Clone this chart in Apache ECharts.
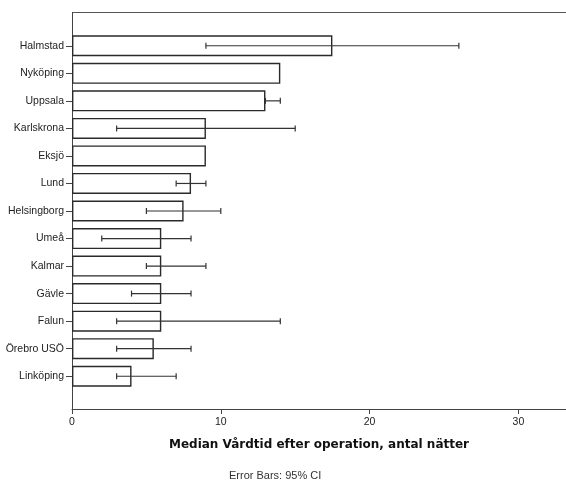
<!DOCTYPE html>
<html>
<head>
<meta charset="utf-8">
<script src="https://cdn.jsdelivr.net/npm/echarts@6/dist/echarts.min.js"></script>
<style>
  html, body { margin: 0; padding: 0; background: #fff; }
  #chart { width: 566px; height: 482px; }
</style>
</head>
<body>
<div id="chart"></div>
<script>
const categories = ['Halmstad', 'Nyköping', 'Uppsala', 'Karlskrona', 'Eksjö', 'Lund', 'Helsingborg',
  'Umeå', 'Kalmar', 'Gävle', 'Falun', 'Örebro USÖ', 'Linköping']
const medians = [17.5, 14, 13, 9, 9, 8, 7.5, 6, 6, 6, 6, 5.5, 4]
// 95% CI, null where no error bar is shown
const ciLow = [9, null, 13, 3, null, 7, 5, 2, 5, 4, 3, 3, 3]
const ciHigh = [26, null, 14, 15, null, 9, 10, 8, 9, 8, 14, 8, 7]
const xTicks = [0, 10, 20, 30]

const errData = []
categories.forEach((c, i) => {
  if (ciLow[i] != null) errData.push([i, ciLow[i], ciHigh[i]])
})

const chart = echarts.init(document.getElementById('chart'))

// 1. options
const option = {
  animation: false,
  textStyle: { fontFamily: 'Liberation Sans, Arial, sans-serif' },
  grid: { left: 72, right: 0, top: 32, height: 358 },
  xAxis: {
    type: 'value',
    min: 0,
    max: 33.2,
    interval: 10,
    offset: 19,
    axisLine: { show: true, lineStyle: { color: '#444', width: 1 } },
    axisTick: { show: true, length: 5, customValues: xTicks, lineStyle: { color: '#444' } },
    axisLabel: { color: '#222', fontSize: 10.5, margin: 8, customValues: xTicks },
    splitLine: { show: false },
    name: 'Median Vårdtid efter operation, antal nätter',
    nameLocation: 'middle',
    nameGap: 30,
    nameTextStyle: { fontFamily: 'DejaVu Sans', fontWeight: 'bold', fontSize: 12, color: '#111' }
  },
  yAxis: {
    type: 'category',
    data: categories,
    inverse: true,
    axisLine: { show: false },
    axisTick: { show: true, alignWithLabel: true, length: 6, lineStyle: { color: '#444' } },
    axisLabel: { color: '#222', fontSize: 10.5, margin: 8 }
  },
  graphic: [
    { type: 'line', shape: { x1: 72, y1: 12.5, x2: 566, y2: 12.5 }, style: { stroke: '#555', lineWidth: 1 } },
    { type: 'line', shape: { x1: 72.5, y1: 12, x2: 72.5, y2: 410 }, style: { stroke: '#444', lineWidth: 1 } },
    {
      type: 'text', left: 229, top: 470,
      style: { text: 'Error Bars: 95% CI', fill: '#333', font: '11px Liberation Sans, Arial, sans-serif' }
    }
  ],
  series: [
    {
      type: 'bar',
      data: medians,
      barWidth: 21,
      itemStyle: { color: '#fff', borderColor: '#2a2a2a', borderWidth: 1.4 }
    },
    {
      type: 'custom',
      data: errData,
      z: 5,
      renderItem: (params, api) => {
        const lo = api.coord([api.value(1), api.value(0)])
        const hi = api.coord([api.value(2), api.value(0)])
        const h = 3
        const st = { stroke: '#333', lineWidth: 1.2 }
        return {
          type: 'group',
          children: [
            { type: 'line', shape: { x1: lo[0], y1: lo[1], x2: hi[0], y2: hi[1] }, style: st },
            { type: 'line', shape: { x1: lo[0], y1: lo[1] - h, x2: lo[0], y2: lo[1] + h }, style: st },
            { type: 'line', shape: { x1: hi[0], y1: hi[1] - h, x2: hi[0], y2: hi[1] + h }, style: st }
          ]
        }
      }
    }
  ]
}

// 2. render
chart.setOption(option)
</script>
</body>
</html>
